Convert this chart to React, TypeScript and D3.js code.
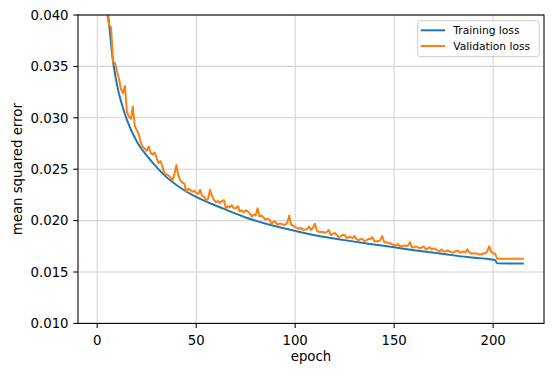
import React from "react";
import * as d3 from "d3";

const trainEpochs = [1, 2, 3, 4, 5, 6, 8, 10, 12, 15, 20, 26, 30, 34, 42, 50, 62, 75, 87, 100, 112, 125, 137, 150, 162, 175, 187, 200, 201, 202, 215];
const trainLoss = [0.062, 0.052, 0.0465, 0.043, 0.041, 0.0391, 0.0355, 0.0332, 0.0316, 0.0298, 0.0277, 0.0261, 0.0252, 0.0244, 0.0232, 0.0223, 0.0213, 0.0203, 0.0196, 0.019, 0.0185, 0.0181, 0.01775, 0.0174, 0.01707, 0.01675, 0.01645, 0.0162, 0.01615, 0.01585, 0.01582];

const valStartEpoch = 1;
const valLoss = [
  0.062, 0.052, 0.047, 0.043, 0.0402, 0.039, 0.0388, 0.0355, 0.0353, 0.0345,
  0.0338, 0.0328, 0.0324, 0.0331, 0.0306, 0.0301, 0.0299, 0.0311, 0.0292, 0.0288,
  0.0284, 0.0276, 0.0272, 0.027, 0.0268, 0.0272, 0.0266, 0.0264, 0.02665, 0.0261,
  0.0256, 0.0258, 0.0252, 0.0246, 0.0245, 0.0244, 0.0242, 0.0239, 0.0245, 0.0254,
  0.0244, 0.0239, 0.0237, 0.0236, 0.0228, 0.0231, 0.023, 0.0228, 0.0229, 0.0227,
  0.0226, 0.023, 0.0224, 0.0223, 0.022, 0.0221, 0.023, 0.0224, 0.022, 0.0218,
  0.0219, 0.0217, 0.0219, 0.022, 0.0212, 0.0214, 0.0213, 0.0215, 0.0212, 0.0212,
  0.0214, 0.0209, 0.021, 0.0208, 0.021, 0.0209, 0.0207, 0.0204, 0.0206, 0.0205,
  0.0212, 0.0204, 0.0205, 0.0203, 0.0201, 0.0202, 0.0201, 0.0197, 0.0199, 0.0199,
  0.0196, 0.0197, 0.0197, 0.0196, 0.0196, 0.0198, 0.0205, 0.0196, 0.0195, 0.0194,
  0.0193, 0.0192, 0.0193, 0.0191, 0.0191, 0.0192, 0.0194, 0.0191, 0.0193, 0.0197,
  0.019, 0.0189, 0.0189, 0.0189, 0.0188, 0.0189, 0.0191, 0.0186, 0.0187, 0.0188,
  0.0186, 0.0184, 0.0185, 0.0186, 0.0186, 0.0183, 0.0184, 0.0184, 0.0183, 0.0185,
  0.0182, 0.0181, 0.0182, 0.0182, 0.018, 0.0181, 0.0182, 0.0182, 0.0184, 0.018,
  0.018, 0.018, 0.0181, 0.0185, 0.0179, 0.0179, 0.0178, 0.0178, 0.0177, 0.0176,
  0.0176, 0.0177, 0.0175, 0.0175, 0.0176, 0.0175, 0.0176, 0.0179, 0.0174, 0.0174,
  0.0175, 0.0174, 0.0173, 0.0174, 0.0175, 0.0172, 0.0173, 0.0174, 0.0172, 0.0173,
  0.0172, 0.0171, 0.017, 0.0172, 0.017, 0.017, 0.0171, 0.017, 0.0169, 0.0169,
  0.017, 0.0171, 0.0169, 0.0169, 0.017, 0.0169, 0.0172, 0.0169, 0.0168, 0.0168,
  0.0168, 0.0168, 0.0167, 0.0167, 0.0168, 0.0168, 0.017, 0.0175, 0.017, 0.0168,
  0.0168, 0.0163, 0.0163, 0.0163, 0.0163, 0.0163, 0.0163, 0.0163, 0.0163, 0.0163,
  0.0163, 0.0163, 0.0163, 0.0163, 0.0163,
];

const xTicks = [0, 50, 100, 150, 200];
const yTicks = [0.01, 0.015, 0.02, 0.025, 0.03, 0.035, 0.04];
const seriesNames = ["Training loss", "Validation loss"];
const seriesColors = ["#1f77b4", "#ff7f0e"];

const W = 554;
const H = 376;
const L = 78;
const R = 544;
const T = 15;
const B = 323.4;

export default function App() {
  const x = d3.scaleLinear().domain([-9.7, 225.7]).range([L, R]);
  const y = d3.scaleLinear().domain([0.01, 0.04]).range([B, T]);

  const trainPts: [number, number][] = trainEpochs.map((e, i) => [e, trainLoss[i]]);
  const valPts: [number, number][] = valLoss.map((v, i) => [valStartEpoch + i, v]);

  const smooth = d3
    .line<[number, number]>()
    .x((d) => x(d[0]))
    .y((d) => y(d[1]))
    .curve(d3.curveMonotoneX);
  const straight = d3
    .line<[number, number]>()
    .x((d) => x(d[0]))
    .y((d) => y(d[1]));

  const font = "DejaVu Sans, sans-serif";

  return (
    <div style={{ position: "absolute", left: 0, top: 0 }}>
      <svg width={W} height={H} style={{ display: "block", background: "#fff" }} fontFamily={font}>
        <defs>
          <clipPath id="plotclip">
            <rect x={L} y={T} width={R - L} height={B - T} />
          </clipPath>
        </defs>
        <rect x={0} y={0} width={W} height={H} fill="#fff" />
        {/* grid */}
        {xTicks.map((t) => (
          <line key={"gx" + t} x1={x(t)} x2={x(t)} y1={T} y2={B} stroke="#d4d4d4" strokeWidth={1.07} />
        ))}
        {yTicks.map((t) => (
          <line key={"gy" + t} x1={L} x2={R} y1={y(t)} y2={y(t)} stroke="#d4d4d4" strokeWidth={1.07} />
        ))}
        {/* lines */}
        <g clipPath="url(#plotclip)">
          <path d={smooth(trainPts) || ""} fill="none" stroke={seriesColors[0]} strokeWidth={2} strokeLinejoin="round" strokeLinecap="square" />
          <path d={straight(valPts) || ""} fill="none" stroke={seriesColors[1]} strokeWidth={2} strokeLinejoin="round" strokeLinecap="square" />
        </g>
        {/* spines */}
        <rect x={L} y={T} width={R - L} height={B - T} fill="none" stroke="#000" strokeWidth={1.07} />
        {/* x ticks */}
        {xTicks.map((t) => (
          <g key={"xt" + t}>
            <line x1={x(t)} x2={x(t)} y1={B} y2={B + 4.7} stroke="#000" strokeWidth={1.07} />
            <text x={x(t)} y={B + 21.5} textAnchor="middle" fontSize={13.3} fill="#000">
              {t}
            </text>
          </g>
        ))}
        {/* y ticks */}
        {yTicks.map((t) => (
          <g key={"yt" + t}>
            <line x1={L - 4.7} x2={L} y1={y(t)} y2={y(t)} stroke="#000" strokeWidth={1.07} />
            <text x={L - 9.4} y={y(t)} dy="0.36em" textAnchor="end" fontSize={13.3} fill="#000">
              {d3.format(".3f")(t)}
            </text>
          </g>
        ))}
        {/* axis labels */}
        <text x={(L + R) / 2} y={361} textAnchor="middle" fontSize={13.3} fill="#000">
          epoch
        </text>
        <text transform={`translate(22,${(T + B) / 2}) rotate(-90)`} textAnchor="middle" fontSize={13.3} fill="#000">
          mean squared error
        </text>
        {/* legend */}
        <g>
          <rect x={417.7} y={20.7} width={121.6} height={36} rx={3} ry={3} fill="#fff" fillOpacity={0.8} stroke="#cccccc" strokeWidth={1} />
          {seriesNames.map((n, i) => (
            <g key={n}>
              <line x1={420.7} x2={445} y1={30.3 + i * 15.7} y2={30.3 + i * 15.7} stroke={seriesColors[i]} strokeWidth={2} />
              <text x={453.3} y={34.2 + i * 15.7} fontSize={10.7} fill="#000">
                {n}
              </text>
            </g>
          ))}
        </g>
      </svg>
    </div>
  );
}
